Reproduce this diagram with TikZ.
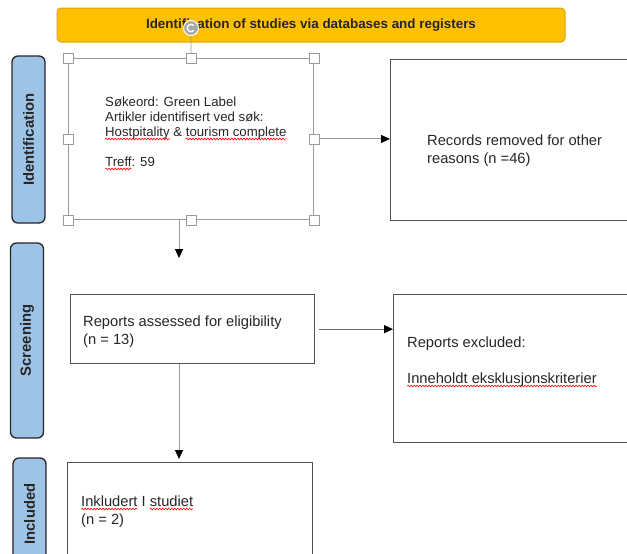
\documentclass[tikz,border=0pt]{standalone}
\usepackage{fontspec}
\setmainfont{Liberation Sans}
\usepackage{tikz}
\usetikzlibrary{arrows.meta, positioning, calc, decorations.pathmorphing}
\usepackage{xcolor}
\definecolor{banner}{HTML}{FFC000}
\definecolor{bannerline}{HTML}{D9A514}
\definecolor{phase}{HTML}{9DC3E6}
\definecolor{ink}{HTML}{262626}
\definecolor{handle}{HTML}{9A9A9A}
\newlength{\typolen}
\newcommand{\typo}[1]{\settowidth{\typolen}{#1}\rlap{\tikz[overlay]\draw[red, line width=0.6pt, decorate, decoration={snake, amplitude=0.9pt, segment length=3pt}] (0pt,-3pt) -- (\typolen,-3pt);}#1}

\begin{document}
\begin{tikzpicture}[x=1pt, y=-1pt,
    box/.style={draw=ink!80, line width=1.3pt, anchor=north west, inner sep=0pt},
    phasebox/.style={draw=ink, fill=phase, line width=1.3pt, rounded corners=6pt, rotate=90, minimum height=33pt, font=\fontsize{14.8}{17}\selectfont\bfseries, text=ink},
    txt/.style={font=\fontsize{14.7}{18}\selectfont, text=ink, align=left, inner sep=0pt, anchor=base west},
    grip/.style={draw=handle, fill=white, line width=0.8pt, minimum size=10pt, inner sep=0pt},
    flow/.style={draw=handle, line width=1pt, -{Triangle[length=9pt, width=8pt, color=black]}}
]
\useasboundingbox (0,0) rectangle (627,554);
\clip (0,0) rectangle (627,554);

% header
\node[fill=banner, draw=bannerline, line width=1pt, rounded corners=4pt, minimum width=508pt, minimum height=34pt, font=\fontsize{13.4}{16}\selectfont\bfseries, text=ink] (title) at (311,25) {Identification of studies via databases and registers};

% phases
\node[phasebox, minimum width=167pt] (ident) at (28.5,139.5) {Identification};
\node[phasebox, minimum width=195pt] (screen) at (27,340.5) {Screening};
\node[phasebox, minimum width=112pt] (incl) at (29.5,514) {Included};

% boxes
\node[box, draw=handle, line width=0.9pt, minimum width=245pt, minimum height=161pt] (search) at (68,58) {};
\node[box, minimum width=260pt, minimum height=161pt] (removed) at (390,59) {};
\node[box, minimum width=244pt, minimum height=69pt] (assessed) at (70,294) {};
\node[box, minimum width=250pt, minimum height=148pt] (excluded) at (393,294) {};
\node[box, minimum width=245pt, minimum height=110pt] (included) at (67,462) {};

% texts (anchored at the baseline of the last line)
\node[txt, font=\fontsize{13.2}{15}\selectfont] (t-search) at (105,166) {S\o keord: Green Label\\Artikler identifisert ved s\o k:\\\typo{Hostpitality} \& \typo{tourism complete}\\[15pt]\typo{Treff}: 59};
\node[txt] (t-removed) at (427,163) {Records removed for other\\reasons (n =46)};
\node[txt] (t-assessed) at (83,344) {Reports assessed for eligibility\\(n = 13)};
\node[txt] (t-excluded) at (407,383) {Reports excluded:\\[18pt]\typo{Inneholdt eksklusjonskriterier}};
\node[txt] (t-included) at (81,524) {\typo{Inkludert} I \typo{studiet}\\(n = 2)};

% arrows
\coordinate (spine) at (179,0);
\coordinate (drop) at (179,258);
\draw[flow] (search.south -| spine) -- (drop);
\draw[flow] (search.east) -- (search.east -| removed.west);
\draw[flow, draw=ink!70, shorten <=4pt] (assessed.east) -- (assessed.east -| excluded.west);
\draw[flow, shorten >=3pt] (assessed.south -| spine) -- (included.north -| spine);

% selection handles
\node[circle, fill=handle!85, draw=white, line width=1pt, minimum size=15pt, inner sep=0pt] (knob) at (191,28) {};
\draw[handle, line width=0.9pt] (knob) -- (search.north);
\foreach \a [count=\i] in {north west, north, north east, east, south east, south, south west, west}
    \node[grip] (grip\i) at (search.\a) {};
\draw[white, line width=1.3pt] ($(knob.center)+(40:3.8)$) arc (40:320:3.8);
\end{tikzpicture}
\end{document}
